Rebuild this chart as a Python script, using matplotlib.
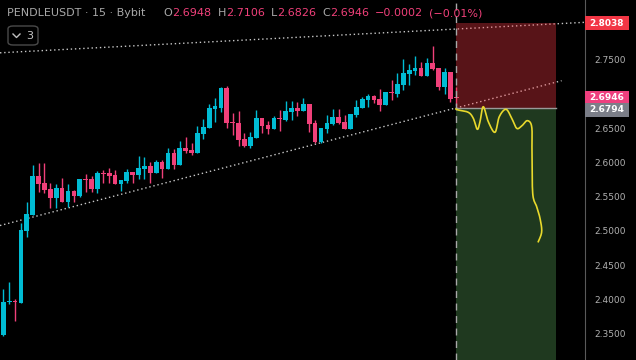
import numpy as np
import matplotlib
matplotlib.use('Agg')
import matplotlib.pyplot as plt
from matplotlib.patches import Rectangle, FancyBboxPatch
from matplotlib.lines import Line2D
import matplotlib.transforms as mtransforms

# 15m candles (open, high, low, close)
opens = [2.3480, 2.3962, 2.3965, 2.3952, 2.5004, 2.5238, 2.5804, 2.5702, 2.5614, 2.5487,
         2.5629, 2.5428, 2.5585, 2.5512, 2.5760, 2.5756, 2.5618, 2.5848, 2.5848, 2.5819,
         2.5692, 2.5735, 2.5863, 2.5823, 2.5911, 2.5950, 2.5852, 2.6009, 2.5911, 2.6136,
         2.5965, 2.6213, 2.6184, 2.6145, 2.6423, 2.6510, 2.6788, 2.6803, 2.7091, 2.6587,
         2.6579, 2.6345, 2.6243, 2.6360, 2.6652, 2.6550, 2.6491, 2.6641, 2.6623, 2.6744,
         2.6798, 2.6754, 2.6857, 2.6579, 2.6301, 2.6491, 2.6564, 2.6667, 2.6594, 2.6491,
         2.6696, 2.6803, 2.6920, 2.6974, 2.6930, 2.6847, 2.7025, 2.7007, 2.7139, 2.7300,
         2.7344, 2.7383, 2.7271, 2.7456, 2.7383, 2.7110, 2.7325, 2.6948]
highs = [2.4152, 2.4254, 2.4006, 2.5113, 2.5424, 2.5965, 2.5994, 2.5994, 2.5702, 2.5687,
         2.5775, 2.5687, 2.5599, 2.5760, 2.5833, 2.5804, 2.5877, 2.5892, 2.5921, 2.5892,
         2.5746, 2.5906, 2.5863, 2.6097, 2.6082, 2.6009, 2.6038, 2.6038, 2.6209, 2.6199,
         2.6316, 2.6370, 2.6287, 2.6535, 2.6637, 2.6857, 2.6944, 2.7106, 2.7120, 2.6725,
         2.6754, 2.6428, 2.6447, 2.6769, 2.6652, 2.6608, 2.6681, 2.6769, 2.6901, 2.6901,
         2.6886, 2.6944, 2.6857, 2.6623, 2.6506, 2.6696, 2.6784, 2.6784, 2.6696, 2.6711,
         2.6915, 2.6959, 2.7003, 2.6988, 2.7076, 2.7032, 2.7208, 2.7310, 2.7515, 2.7442,
         2.7558, 2.7471, 2.7529, 2.7705, 2.7383, 2.7383, 2.7325, 2.7106]
lows = [2.3460, 2.3937, 2.3689, 2.3950, 2.4917, 2.5238, 2.5575, 2.5560, 2.5341, 2.5341,
        2.5428, 2.5351, 2.5428, 2.5500, 2.5575, 2.5575, 2.5560, 2.5697, 2.5697, 2.5683,
        2.5589, 2.5697, 2.5697, 2.5765, 2.5756, 2.5697, 2.5852, 2.5779, 2.5911, 2.5911,
        2.5965, 2.6136, 2.6115, 2.6145, 2.6350, 2.6510, 2.6598, 2.6744, 2.6510, 2.6404,
        2.6243, 2.6228, 2.6218, 2.6360, 2.6433, 2.6418, 2.6491, 2.6462, 2.6608, 2.6623,
        2.6681, 2.6754, 2.6447, 2.6287, 2.6287, 2.6428, 2.6550, 2.6564, 2.6491, 2.6491,
        2.6662, 2.6803, 2.6813, 2.6871, 2.6759, 2.6847, 2.6915, 2.6963, 2.7066, 2.7139,
        2.7285, 2.7271, 2.7271, 2.7358, 2.7061, 2.7007, 2.6890, 2.6826]
closes = [2.3962, 2.3965, 2.3962, 2.5015, 2.5249, 2.5804, 2.5692, 2.5604, 2.5487, 2.5629,
          2.5428, 2.5585, 2.5516, 2.5756, 2.5752, 2.5618, 2.5848, 2.5840, 2.5808, 2.5692,
          2.5746, 2.5863, 2.5823, 2.5921, 2.5950, 2.5852, 2.6009, 2.5911, 2.6136, 2.5965,
          2.6213, 2.6174, 2.6145, 2.6433, 2.6520, 2.6798, 2.6827, 2.7091, 2.6583, 2.6583,
          2.6330, 2.6243, 2.6374, 2.6652, 2.6539, 2.6491, 2.6652, 2.6637, 2.6754, 2.6798,
          2.6754, 2.6857, 2.6564, 2.6301, 2.6506, 2.6579, 2.6667, 2.6579, 2.6491, 2.6711,
          2.6813, 2.6930, 2.6974, 2.6920, 2.6847, 2.7032, 2.7022, 2.7149, 2.7310, 2.7354,
          2.7383, 2.7271, 2.7456, 2.7373, 2.7110, 2.7325, 2.6934, 2.6946]

# drawings
upper_line = ([-0.56, 98.9], [2.7605, 2.8051])
lower_line = ([-0.56, 94.9], [2.5080, 2.7197])
entry = 2.6794
target = 2.8038
last_price = 2.6946
box_bars = (76.95, 93.95)
path_bars = [76.95, 77.34, 79.04, 79.89, 80.57, 81.03, 81.59, 82.44, 83.58, 84.31, 85.45,
             86.42, 87.27, 88.12, 89.07, 89.82, 89.87, 89.99, 90.67, 91.23, 91.52, 90.94]
path_prices = [2.6784, 2.6769, 2.6735, 2.6648, 2.6487, 2.6598, 2.6817, 2.6598, 2.6443, 2.6671,
               2.6779, 2.6648, 2.6501, 2.6535, 2.6613, 2.6525, 2.6184, 2.5551, 2.5355, 2.5186,
               2.4990, 2.4844]
# 2.70 and 2.80 sit under the price boxes
price_ticks = [2.35, 2.40, 2.45, 2.50, 2.55, 2.60, 2.65, 2.75]

UP = '#00bcd4'
DOWN = '#f0407a'
GREY = '#a8a8a8'


def smooth(xs, ys, n=10):
    p = np.column_stack([xs, ys])
    p = np.vstack([p[0], p, p[-1]])
    out = []
    for i in range(1, len(p) - 2):
        p0, p1, p2, p3 = p[i - 1], p[i], p[i + 1], p[i + 2]
        for t in np.linspace(0, 1, n, endpoint=False):
            out.append(0.5 * (2 * p1 + (-p0 + p2) * t + (2 * p0 - 5 * p1 + 4 * p2 - p3) * t ** 2
                              + (-p0 + 3 * p1 - 3 * p2 + p3) * t ** 3))
    out.append(p[-2])
    out = np.array(out)
    return out[:, 0], out[:, 1]


fig = plt.figure(figsize=(6.36, 3.6), dpi=100, facecolor='black')
ax = fig.add_axes([0, 0, 585 / 636, 1])
ax.set_facecolor('black')
ax.set_xlim(-0.56, 98.88)
ax.set_ylim(2.3114, 2.8377)

o = np.array(opens)
c = np.array(closes)
h = np.array(highs)
l = np.array(lows)
x = np.arange(len(o))
cols = [UP if cc >= oo else DOWN for oo, cc in zip(o, c)]
ax.vlines(x, l, h, colors=cols, linewidth=1, zorder=3)
bottoms = np.minimum(o, c)
heights = np.maximum(np.abs(c - o), 0.0012)
ax.bar(x, heights, bottom=bottoms, width=0.8, color=cols, linewidth=0, zorder=4)

# trend lines
ax.plot(*upper_line, color='#c8c8c8', lw=1, ls=(0, (1, 2)), zorder=2)
ax.plot(*lower_line, color='#c8c8c8', lw=1, ls=(0, (1, 2)), zorder=2)

# long/short position box
ax.add_patch(Rectangle((box_bars[0], entry), box_bars[1] - box_bars[0], target - entry,
                       facecolor='#ff3c47', alpha=0.35, lw=0, zorder=5))
ax.add_patch(Rectangle((box_bars[0], 2.25), box_bars[1] - box_bars[0], entry - 2.25,
                       facecolor='#59a659', alpha=0.35, lw=0, zorder=5))
ax.plot(box_bars, [entry, entry], color='#9a9a9a', lw=1, zorder=6)
ax.axvline(box_bars[0], color='#a8a8a8', lw=1, ls=(0, (5, 4)), zorder=6)

px, py = smooth(path_bars, path_prices)
ax.plot(px, py, color='#e8d92c', lw=1.2, zorder=7)

# price scale
ax.yaxis.tick_right()
ax.set_yticks(price_ticks)
ax.set_yticklabels(['%.4f' % t for t in price_ticks])
ax.tick_params(axis='y', length=0, pad=7, labelcolor='#b0b0b0', labelsize=6.5)
ax.set_xticks([])
for s in ['left', 'top', 'bottom']:
    ax.spines[s].set_visible(False)
ax.spines['right'].set_color('#5a5a5a')

trans = mtransforms.blended_transform_factory(ax.transAxes, ax.transData)
box_h = 0.0205
for val, col in [(target, '#f23645'), (last_price, '#ee3f7e'), (entry, '#7b7e88')]:
    yb = val - box_h / 2
    if val == entry:
        yb = val - box_h / 2 - 0.002
    ax.add_patch(Rectangle((1.0, yb), 44 / 585, box_h, transform=trans, facecolor=col,
                           lw=0, clip_on=False, zorder=8))
    ax.text(607 / 585, yb + box_h / 2, '%.4f' % val, transform=trans, color='white',
            fontsize=6.5, fontweight='bold', ha='center', va='center', clip_on=False, zorder=9)


# header
def fx(v):
    return v / 636


def fy(v):
    return 1 - v / 360


fig.text(fx(7), fy(13), 'PENDLEUSDT · 15 · Bybit', color=GREY, fontsize=8, va='center')

renderer = fig.canvas.get_renderer()
pieces = [('O', GREY, 0), ('2.6948', DOWN, 7), ('H', GREY, 0), ('2.7106', DOWN, 6),
          ('L', GREY, 0), ('2.6826', DOWN, 6), ('C', GREY, 0), ('2.6946', DOWN, 6),
          ('−0.0002', DOWN, 6), ('(−0.01%)', DOWN, 0)]
xpos = 163
for txt, col, gap in pieces:
    t = fig.text(fx(xpos), fy(13), txt, color=col, fontsize=8, va='center')
    w = t.get_window_extent(renderer).width
    xpos += w + gap

fig.patches.append(FancyBboxPatch((fx(8), fy(45)), fx(30), 19 / 360,
                                  boxstyle='round,pad=0,rounding_size=0.008',
                                  transform=fig.transFigure, facecolor='none',
                                  edgecolor='#4a4a4a', lw=1))
fig.lines.append(Line2D([fx(13), fx(16.5), fx(20)], [fy(34), fy(37.5), fy(34)],
                        transform=fig.transFigure, color='#c0c0c0', lw=1))
fig.text(fx(26), fy(36), '3', color='#c8c8c8', fontsize=8, va='center')

fig.savefig('out.png', dpi=100, facecolor='black')
